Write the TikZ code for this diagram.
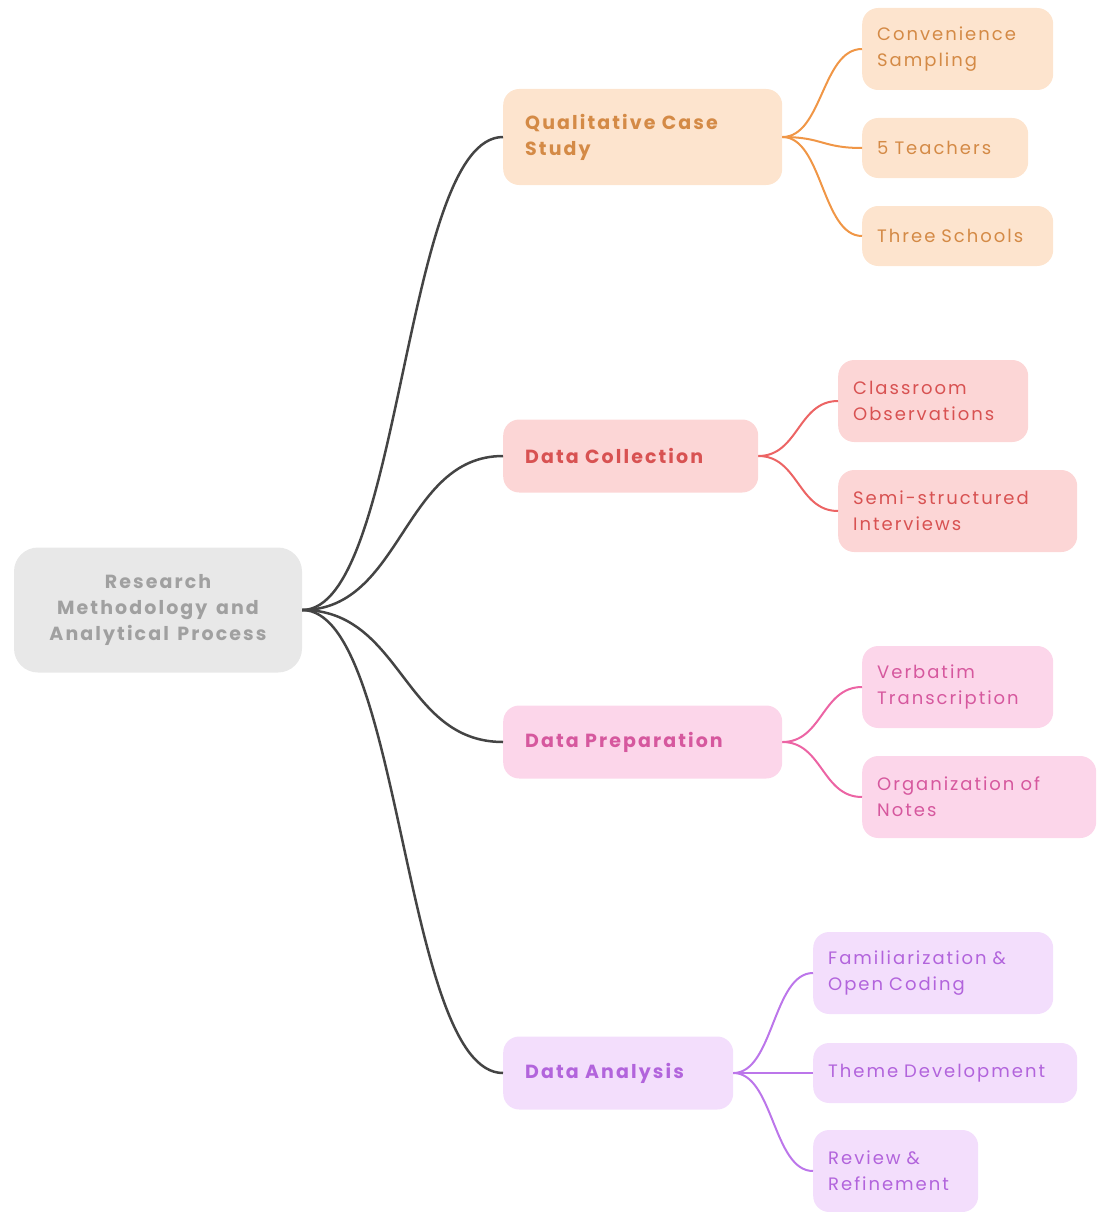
\documentclass[tikz,border=0pt]{standalone}
\usepackage{fontspec}
\setmainfont{Poppins}[LetterSpace=11, WordSpace=1.4]
\definecolor{GrayFill}{RGB}{232,232,232}
\definecolor{GrayText}{RGB}{160,160,160}
\definecolor{GrayLine}{RGB}{68,68,68}
\definecolor{OrangeFill}{RGB}{253,228,206}
\definecolor{OrangeText}{RGB}{212,138,70}
\definecolor{OrangeLine}{RGB}{240,150,70}
\definecolor{RedFill}{RGB}{252,214,214}
\definecolor{RedText}{RGB}{216,82,82}
\definecolor{RedLine}{RGB}{236,100,100}
\definecolor{PinkFill}{RGB}{252,214,234}
\definecolor{PinkText}{RGB}{214,88,158}
\definecolor{PinkLine}{RGB}{236,100,164}
\definecolor{PurpleFill}{RGB}{243,222,252}
\definecolor{PurpleText}{RGB}{178,100,220}
\definecolor{PurpleLine}{RGB}{188,118,234}
\tikzset{
  box/.style={shape=rectangle, rounded corners=16pt, inner xsep=22pt, inner ysep=0pt,
    align=left, anchor=west, font=\fontsize{18}{26}\selectfont},
  topic/.style={box, fill=#1Fill, text=#1Text, font=\fontsize{19}{26}\selectfont\bfseries},
  leaf/.style={box, inner xsep=15pt, fill=#1Fill, text=#1Text},
  branch/.style={draw=#1Line, line width=2pt},
}
\begin{document}
\begin{tikzpicture}[x=1pt, y=-1pt]
  \useasboundingbox (0,0) rectangle (1096,1212);
  % root
  \node[box, anchor=center, align=center, fill=GrayFill, text=GrayText,
    font=\fontsize{19}{26}\selectfont\bfseries,
    minimum width=288pt, minimum height=125pt, rounded corners=24pt] (rmap) at (158,610)
    {Research\\Methodology and\\Analytical Process};

  % topics
  \node[topic=Orange, text width=235pt, minimum height=96pt] (qcs) at (503,137) {Qualitative Case\\Study};
  \node[topic=Red, text width=211pt, minimum height=73pt] (dcol) at (503,456) {Data Collection};
  \node[topic=Pink, text width=235pt, minimum height=73pt] (dprep) at (503,742) {Data Preparation};
  \node[topic=Purple, text width=186pt, minimum height=73pt] (dana) at (503,1073) {Data Analysis};

  % leaves
  \node[leaf=Orange, text width=161pt, minimum height=82pt] (conv) at (862,49) {Convenience\\Sampling};
  \node[leaf=Orange, text width=136pt, minimum height=60pt] (teach) at (862,148) {5 Teachers};
  \node[leaf=Orange, text width=161pt, minimum height=60pt] (schools) at (862,236) {Three Schools};
  \node[leaf=Red, text width=160pt, minimum height=82pt] (obs) at (838,401) {Classroom\\Observations};
  \node[leaf=Red, text width=209pt, minimum height=82pt] (intv) at (838,511) {Semi-structured\\Interviews};
  \node[leaf=Pink, text width=161pt, minimum height=82pt] (verb) at (862,687) {Verbatim\\Transcription};
  \node[leaf=Pink, text width=204pt, minimum height=82pt] (notes) at (862,797) {Organization of\\Notes};
  \node[leaf=Purple, text width=210pt, minimum height=82pt] (fam) at (813,973) {Familiarization \&\\Open Coding};
  \node[leaf=Purple, text width=234pt, minimum height=60pt] (theme) at (813,1073) {Theme Development};
  \node[leaf=Purple, text width=135pt, minimum height=82pt] (rev) at (813,1171) {Review \&\\Refinement};

  % connectors
  \foreach \t in {qcs,dcol,dprep,dana}
    \draw[branch=Gray, line width=2.5pt] (rmap.east) .. controls +(100,0) and +(-100,0) .. (\t.west);
  \foreach \l in {conv,teach,schools}
    \draw[branch=Orange] (qcs.east) .. controls +(40,0) and +(-40,0) .. (\l.west);
  \foreach \l in {obs,intv}
    \draw[branch=Red] (dcol.east) .. controls +(40,0) and +(-40,0) .. (\l.west);
  \foreach \l in {verb,notes}
    \draw[branch=Pink] (dprep.east) .. controls +(40,0) and +(-40,0) .. (\l.west);
  \foreach \l in {fam,theme,rev}
    \draw[branch=Purple] (dana.east) .. controls +(40,0) and +(-40,0) .. (\l.west);
\end{tikzpicture}
\end{document}
